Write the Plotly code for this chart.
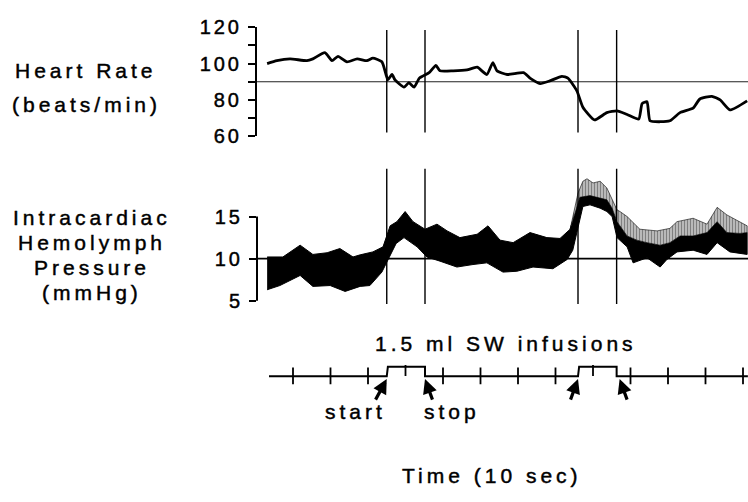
import plotly.graph_objects as go

W, H = 748, 502

# ---------------- data (time in seconds) ----------------
hr_t = [3.1, 5.7, 9.2, 13.7, 15.3, 18.5, 20.4, 22.0, 24.4, 27.1, 29.7, 31.3, 33.7, 34.8, 35.3,
        36.4, 37.2, 39.6, 40.9, 42.3, 43.7, 46.3, 48.1, 49.2, 52.7, 56.4, 59.1, 61.7, 63.3, 64.4,
        67.1, 71.5, 73.2, 75.9, 78.5, 81.7, 83.3, 85.7, 87.3, 90.4, 93.7, 96.4, 99.1, 102.2, 103.1,
        104.4, 105.2, 107.9, 110.5, 113.2, 116.7, 118.5, 121.7, 123.9, 126.5, 131.1]
hr_bpm = [100, 101.6, 102.6, 101.6, 102.6, 106, 101.6, 104, 101, 102.6, 101.6, 103, 101, 94, 91,
          94, 91, 87, 89.5, 87, 92, 95, 99, 96, 96, 96.5, 98, 94, 100.5, 96,
          94, 95, 92, 89, 90.5, 93, 92, 85, 76, 69, 73, 74, 72, 69.5, 78,
          79, 68.5, 68, 68.5, 73, 75.5, 80.5, 82, 80, 74.5, 79.5]

p_low_t = [3.1, 6.5, 9.2, 11.9, 15.3, 19.9, 23.9, 27.9, 30.5, 33.7, 35.3, 37.5, 39.6, 43.1, 45.7,
           49.2, 53.7, 58.0, 61.7, 66.0, 69.7, 74.0, 79.3, 83.1, 84.6, 86.0, 87.3, 89.2, 91.9, 93.7,
           95.1, 96.4, 99.1, 100.7, 104.4, 107.9, 109.7, 112.4, 116.7, 120.4, 123.1, 126.5, 131.1]
p_low = [6.3, 6.8, 7.4, 8.0, 6.7, 6.8, 6.1, 6.7, 6.8, 8.4, 9.9, 11.8, 12.5, 11.4, 10.2,
         9.7, 9.0, 9.3, 9.5, 8.4, 8.5, 9.0, 8.8, 9.9, 11.0, 13.5, 16.2, 16.4, 16.0, 15.6,
         15.0, 12.5, 11.4, 9.5, 10.1, 9.0, 9.9, 10.8, 11.0, 10.5, 11.9, 10.8, 10.5]

p_high_t = [3.1, 7.3, 11.9, 15.3, 19.1, 22.5, 26.0, 27.9, 31.3, 34.0, 35.9, 37.7, 39.9, 42.0, 45.2,
            48.4, 51.1, 54.5, 59.1, 62.0, 65.2, 68.7, 73.2, 77.7, 81.2, 83.9, 85.2, 86.5, 89.2, 91.9,
            93.7, 95.1, 96.4, 99.1, 101.7, 104.4, 107.9, 110.5, 113.2, 116.7, 120.4, 123.1, 125.7,
            129.2, 131.1]
p_high = [10.2, 10.2, 11.6, 10.5, 10.7, 11.2, 10.2, 10.45, 10.8, 11.4, 13.9, 14.4, 15.6, 14.4, 13.5,
          14.1, 13.3, 12.5, 12.9, 13.9, 12.2, 11.9, 13.1, 12.5, 12.4, 13.5, 15.5, 17.3, 17.5, 17.2,
          17.0, 16.0, 14.4, 12.7, 12.2, 11.9, 11.6, 11.9, 12.7, 12.7, 13.1, 14.4, 13.1,
          13.0, 13.1]

p_spike_t = [83.9, 86.0, 87.3, 88.4, 90.0, 91.9, 93.7, 95.1, 96.4, 97.2, 99.1, 102.5, 107.1, 110.5,
             112.4, 116.7, 120.4, 123.1, 125.7, 131.1]
p_spike = [13.5, 17.8, 19.2, 19.5, 19.0, 19.2, 18.4, 17.0, 15.8, 15.6, 15.0, 13.5, 13.3, 13.6,
           14.4, 14.8, 14.1, 16.1, 15.2, 13.9]

infusion_start = [35.0, 86.0]
infusion_stop = [45.2, 96.3]
time_ticks = [10, 20, 30, 40, 50, 60, 70, 80, 90, 100, 110, 120, 130]
trace_start, trace_end = 3.6, 131.3

hr_ticks = [60, 80, 100, 120]
hr_minor = [70, 90, 110]
p_ticks = [5, 10, 15]
hr_ref, p_ref = 90, 10

# ---------------- helpers ----------------
FONT = "Liberation Sans, Arial, Helvetica, sans-serif"


def sp(s, ls=4, sw=0.45):
    return (f'<span style="letter-spacing:{ls}px;stroke:black;stroke-width:{sw}px">'
            f'{s}</span>')


def px(x):
    return x / W


def py(y):
    return 1 - y / H


AX_X = 257
X0_T = (AX_X - 255.5) / 3.75
X1_T = (W - 255.5) / 3.75

fig = go.Figure()

# Heart rate
fig.add_trace(go.Scatter(x=hr_t, y=hr_bpm, mode="lines", yaxis="y",
                         line=dict(color="black", width=2.8, shape="spline", smoothing=0.5),
                         showlegend=False, hoverinfo="skip"))

# Pressure solid band
band_x = p_high_t + p_low_t[::-1]
band_y = p_high + p_low[::-1]
fig.add_trace(go.Scatter(x=band_x, y=band_y, mode="lines", yaxis="y2", fill="toself",
                         fillcolor="black", line=dict(color="black", width=1),
                         showlegend=False, hoverinfo="skip"))

# Pressure spike region (vertical strokes)
sel = [(t, v) for t, v in zip(p_high_t, p_high) if t >= p_spike_t[0]]
sx = p_spike_t + [t for t, _ in sel][::-1]
sy = p_spike + [v for _, v in sel][::-1]
fig.add_trace(go.Scatter(x=sx, y=sy, mode="lines", yaxis="y2", fill="toself",
                         fillcolor="white",
                         fillpattern=dict(shape="|", size=3, solidity=0.7,
                                          fgcolor="black", bgcolor="white"),
                         line=dict(color="black", width=0.6),
                         showlegend=False, hoverinfo="skip"))

# Event timeline (step)
ev_x = [trace_start]
ev_y = [0]
for a, b in zip(infusion_start, infusion_stop):
    ev_x += [a, a + 0.3, b, b]
    ev_y += [0, 1, 1, 0]
ev_x.append(trace_end)
ev_y.append(0)
fig.add_trace(go.Scatter(x=ev_x, y=ev_y, mode="lines", yaxis="y3",
                         line=dict(color="black", width=2), showlegend=False, hoverinfo="skip"))


def in_pulse(t):
    return any(a <= t <= b for a, b in zip(infusion_start, infusion_stop))


tk_base = [t for t in time_ticks if not in_pulse(t)]
tk_pulse = [t for t in time_ticks if in_pulse(t)]
fig.add_trace(go.Scatter(x=tk_base, y=[0.05] * len(tk_base), mode="markers", yaxis="y3",
                         marker=dict(symbol="line-ns", size=12, line=dict(color="black", width=1.8)),
                         showlegend=False, hoverinfo="skip"))
fig.add_trace(go.Scatter(x=tk_pulse, y=[0.6] * len(tk_pulse), mode="markers", yaxis="y3",
                         marker=dict(symbol="line-ns", size=8, line=dict(color="black", width=1.8)),
                         showlegend=False, hoverinfo="skip"))

shapes = []
# reference lines
shapes.append(dict(type="line", xref="paper", yref="y", x0=px(AX_X), x1=1, y0=hr_ref, y1=hr_ref,
                   line=dict(color="#222", width=1.2), layer="below"))
shapes.append(dict(type="line", xref="paper", yref="y2", x0=px(AX_X), x1=1, y0=p_ref, y1=p_ref,
                   line=dict(color="black", width=1.6), layer="below"))
# pressure axis line
shapes.append(dict(type="line", xref="paper", yref="y2", x0=px(AX_X), x1=px(AX_X), y0=5, y1=15,
                   line=dict(color="black", width=2)))
# infusion markers (vertical lines)
for t in infusion_start + infusion_stop:
    shapes.append(dict(type="line", xref="x", yref="y", x0=t, x1=t, y0=62, y1=118.5,
                       line=dict(color="black", width=1.4)))
    shapes.append(dict(type="line", xref="x", yref="y2", x0=t, x1=t, y0=4.6, y1=20.7,
                       line=dict(color="black", width=1.4)))

annotations = []


def label(text, x, y, size=21, ls=4):
    annotations.append(dict(text=sp(text, ls), x=px(x), y=py(y), xref="paper", yref="paper",
                            showarrow=False, xanchor="center", yanchor="middle",
                            font=dict(family=FONT, size=size, color="black")))


label("Heart Rate", 86, 62)
label("(beats/min)", 86, 98)
label("Intracardiac", 92, 216)
label("Hemolymph", 92, 242)
label("Pressure", 92, 268)
label("(mmHg)", 92, 294)
label("1.5 ml SW infusions", 506, 348)
label("start", 355, 419)
label("stop", 452, 419)
label("Time (10 sec)", 492, 486)

# arrows
arrow_specs = [(infusion_start[0], -12, 22), (infusion_stop[0], 8, 22),
               (infusion_start[1], -8, 22), (infusion_stop[1] + 0.8, 8, 22)]
for t, ax, ay in arrow_specs:
    annotations.append(dict(x=t, y=-0.3, xref="x", yref="y3", text="", showarrow=True,
                            axref="pixel", ayref="pixel", ax=ax, ay=ay,
                            arrowhead=2, arrowsize=0.9, arrowwidth=3.2, arrowcolor="black",
                            standoff=0))

tickfont = dict(family=FONT, size=20, color="black")

fig.update_layout(
    width=W, height=H, margin=dict(l=0, r=0, t=0, b=0),
    paper_bgcolor="white", plot_bgcolor="white",
    showlegend=False,
    xaxis=dict(domain=[px(AX_X), 1], range=[X0_T, X1_T], visible=False, fixedrange=True),
    yaxis=dict(domain=[py(131), py(17)], range=[60, 120], anchor="x",
               showline=True, linecolor="black", linewidth=2, showgrid=False, zeroline=False,
               ticks="outside", ticklen=7, tickwidth=2, tickcolor="black",
               tickvals=hr_ticks, ticktext=[sp(str(v), 3) for v in hr_ticks],
               tickfont=tickfont, ticklabelstandoff=2,
               minor=dict(tickvals=hr_minor, ticks="outside", ticklen=7, tickwidth=2,
                          tickcolor="black", showgrid=False)),
    yaxis2=dict(domain=[py(310), py(159.6)], range=[4.2, 21.3], anchor="x",
                showline=False, showgrid=False, zeroline=False,
                ticks="outside", ticklen=7, tickwidth=2, tickcolor="black",
                tickvals=p_ticks, ticktext=[sp(str(v), 3) for v in p_ticks],
                tickfont=tickfont, ticklabelstandoff=2),
    yaxis3=dict(domain=[py(410), py(360)], range=[-2.8, 2.2], anchor="x", visible=False),
    shapes=shapes, annotations=annotations,
)

fig.write_html("out.html")
